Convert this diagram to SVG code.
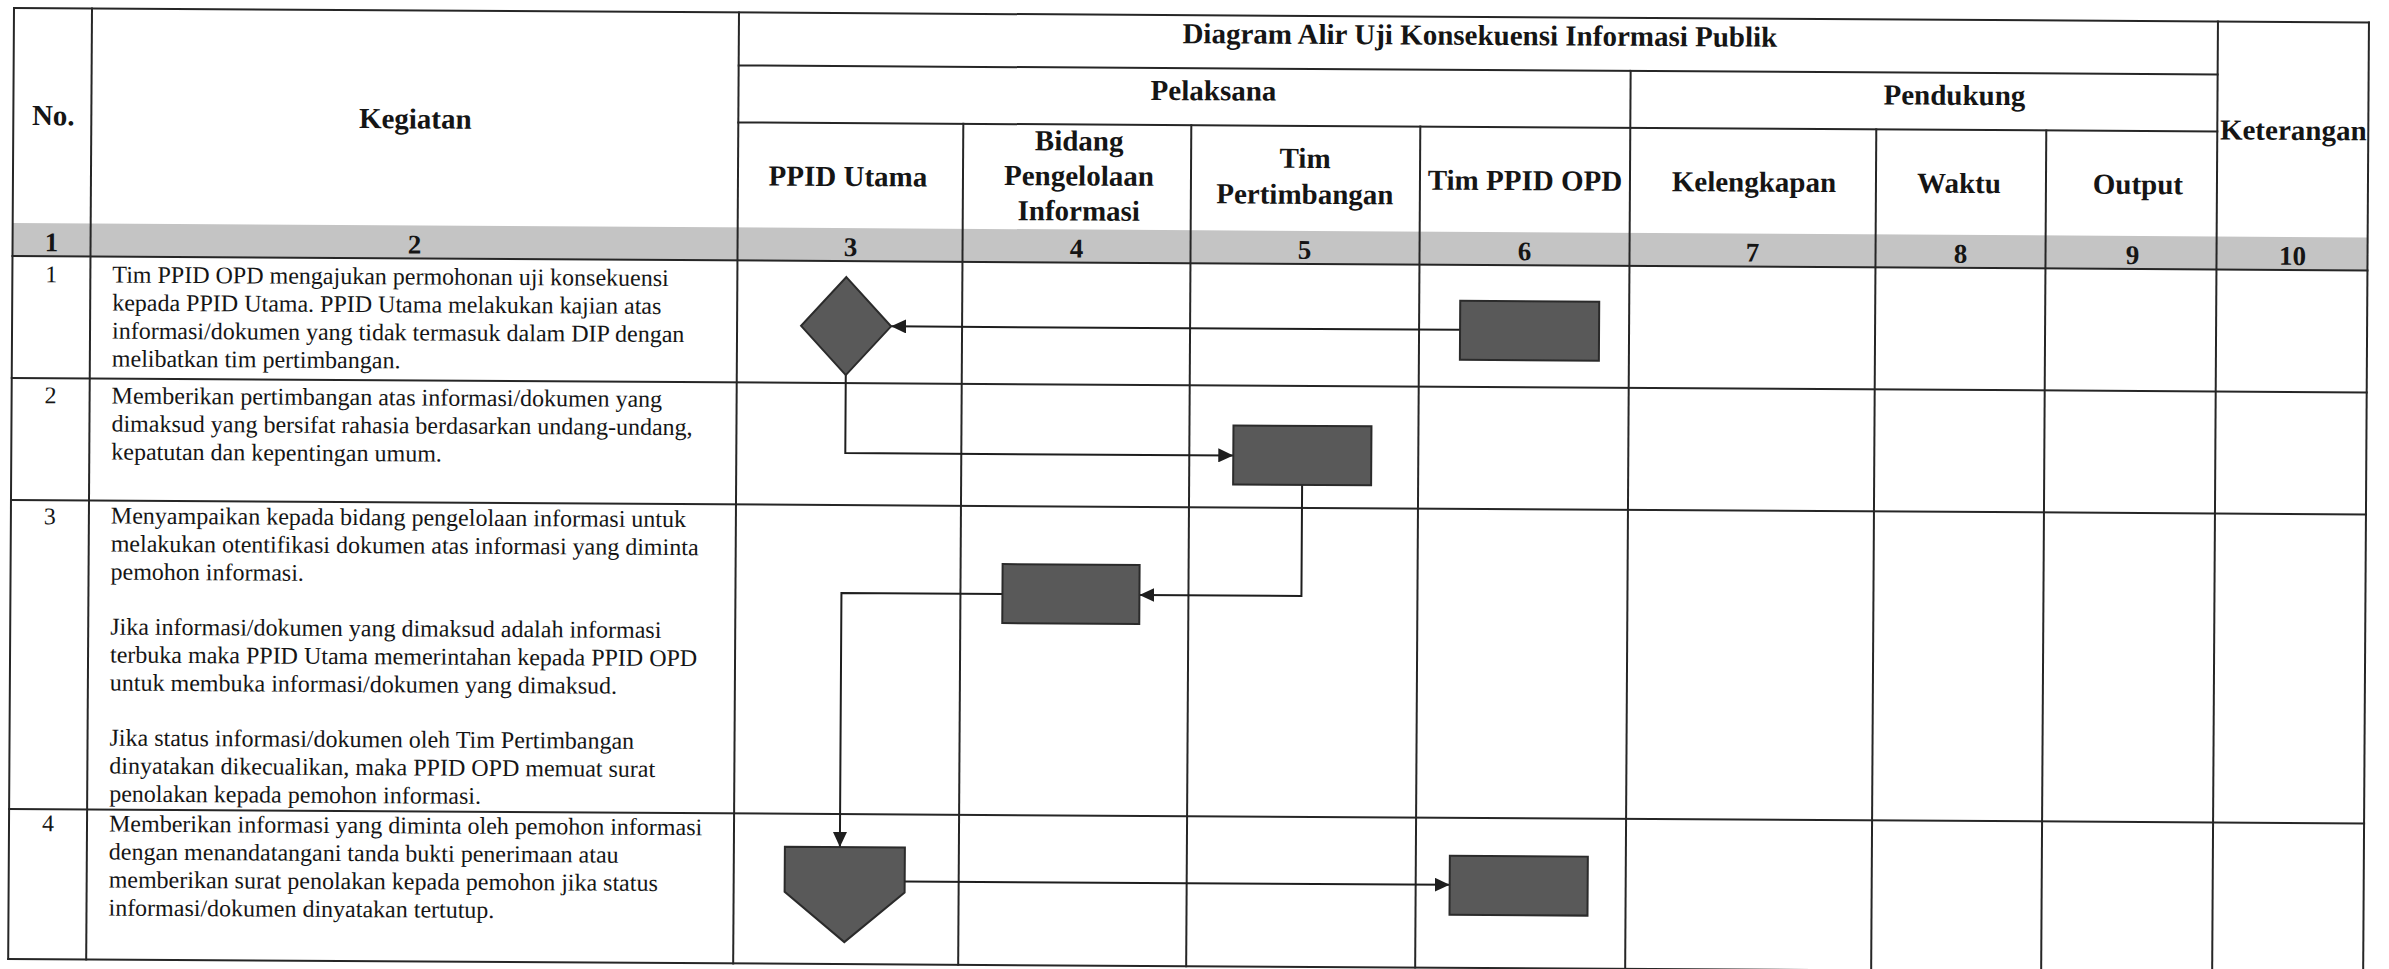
<svg xmlns="http://www.w3.org/2000/svg" width="2389" height="969" viewBox="0 0 2389 969">
<style>
.grid line{stroke:#262626;stroke-width:2;stroke-linecap:square}
.h{font-family:"Liberation Serif","Times New Roman",serif;font-weight:bold;font-size:29px;text-anchor:middle;fill:#151515}
.n{font-family:"Liberation Serif","Times New Roman",serif;font-weight:bold;font-size:27px;text-anchor:middle;fill:#151515}
.t{font-family:"Liberation Serif","Times New Roman",serif;font-size:24px;fill:#151515}
.rn{font-family:"Liberation Serif","Times New Roman",serif;font-size:24px;text-anchor:middle;fill:#151515}
.shape{fill:#595959;stroke:#2b2b2b;stroke-width:2}
.conn path{fill:none;stroke:#1e1e1e;stroke-width:2;marker-end:url(#ah)}
</style>
<defs>
<marker id="ah" markerUnits="userSpaceOnUse" markerWidth="16" markerHeight="14" refX="15" refY="7" orient="auto">
<path d="M0,0 L15,7 L0,14 z" fill="#1e1e1e"/>
</marker>
</defs>
<rect x="0" y="0" width="2389" height="969" fill="#ffffff"/>
<g transform="rotate(0.35 14 8)">
<rect x="14" y="223" width="2355" height="33" fill="#c4c4c4"/>
<g class="grid" id="table">
<line x1="14" y1="8" x2="2369" y2="8"/>
<line x1="14" y1="959" x2="2369" y2="959"/>
<line x1="14" y1="8" x2="14" y2="959"/>
<line x1="2369" y1="8" x2="2369" y2="959"/>
<line x1="92" y1="8" x2="92" y2="959"/>
<line x1="739" y1="8" x2="739" y2="959"/>
<line x1="2218" y1="8" x2="2218" y2="959"/>
<line x1="739" y1="61" x2="2218" y2="61"/>
<line x1="739" y1="118" x2="2218" y2="118"/>
<line x1="1631" y1="61" x2="1631" y2="959"/>
<line x1="964" y1="118" x2="964" y2="959"/>
<line x1="1192" y1="118" x2="1192" y2="959"/>
<line x1="1421" y1="118" x2="1421" y2="959"/>
<line x1="1877" y1="118" x2="1877" y2="959"/>
<line x1="2047" y1="118" x2="2047" y2="959"/>
<line x1="14" y1="256" x2="2369" y2="256"/>
<line x1="14" y1="378" x2="2369" y2="378"/>
<line x1="14" y1="500" x2="2369" y2="500"/>
<line x1="14" y1="809" x2="2369" y2="809"/>
</g>
<g id="headers">
<text class="h" x="1480" y="36">Diagram Alir Uji Konsekuensi Informasi Publik</text>
<text class="h" x="1214" y="93">Pelaksana</text>
<text class="h" x="1955" y="93">Pendukung</text>
<text class="h" x="54" y="125">No.</text>
<text class="h" x="416" y="126">Kegiatan</text>
<text class="h" x="849" y="181">PPID Utama</text>
<text class="h" x="1080" y="144">Bidang</text>
<text class="h" x="1080" y="179">Pengelolaan</text>
<text class="h" x="1080" y="214">Informasi</text>
<text class="h" x="1306" y="160">Tim</text>
<text class="h" x="1306" y="196">Pertimbangan</text>
<text class="h" x="1526" y="181">Tim PPID OPD</text>
<text class="h" x="1755" y="181">Kelengkapan</text>
<text class="h" x="1960" y="181">Waktu</text>
<text class="h" x="2139" y="181">Output</text>
<text class="h" x="2294" y="126">Keterangan</text>
</g>
<g id="column-numbers">
<text class="n" x="53" y="251">1</text>
<text class="n" x="416" y="251">2</text>
<text class="n" x="852" y="251">3</text>
<text class="n" x="1078" y="251">4</text>
<text class="n" x="1306" y="251">5</text>
<text class="n" x="1526" y="251">6</text>
<text class="n" x="1754" y="251">7</text>
<text class="n" x="1962" y="251">8</text>
<text class="n" x="2134" y="251">9</text>
<text class="n" x="2294" y="251">10</text>
</g>
<g id="row-1">
<text class="rn" x="53" y="282">1</text>
<text class="t" x="114" y="282">Tim PPID OPD mengajukan permohonan uji konsekuensi</text>
<text class="t" x="114" y="310">kepada PPID Utama. PPID Utama melakukan kajian atas</text>
<text class="t" x="114" y="338">informasi/dokumen yang tidak termasuk dalam DIP dengan</text>
<text class="t" x="114" y="366">melibatkan tim pertimbangan.</text>
</g>
<g id="row-2">
<text class="rn" x="53" y="403">2</text>
<text class="t" x="114" y="403">Memberikan pertimbangan atas informasi/dokumen yang</text>
<text class="t" x="114" y="431">dimaksud yang bersifat rahasia berdasarkan undang-undang,</text>
<text class="t" x="114" y="459">kepatutan dan kepentingan umum.</text>
</g>
<g id="row-3">
<text class="rn" x="53" y="524">3</text>
<text class="t" x="114" y="523">Menyampaikan kepada bidang pengelolaan informasi untuk</text>
<text class="t" x="114" y="551">melakukan otentifikasi dokumen atas informasi yang diminta</text>
<text class="t" x="114" y="579">pemohon informasi.</text>
<text class="t" x="114" y="634">Jika informasi/dokumen yang dimaksud adalah informasi</text>
<text class="t" x="114" y="662">terbuka maka PPID Utama memerintahan kepada PPID OPD</text>
<text class="t" x="114" y="690">untuk membuka informasi/dokumen yang dimaksud.</text>
<text class="t" x="114" y="745">Jika status informasi/dokumen oleh Tim Pertimbangan</text>
<text class="t" x="114" y="773">dinyatakan dikecualikan, maka PPID OPD memuat surat</text>
<text class="t" x="114" y="801">penolakan kepada pemohon informasi.</text>
</g>
<g id="row-4">
<text class="rn" x="53" y="831">4</text>
<text class="t" x="114" y="831">Memberikan informasi yang diminta oleh pemohon informasi</text>
<text class="t" x="114" y="859">dengan menandatangani tanda bukti penerimaan atau</text>
<text class="t" x="114" y="887">memberikan surat penolakan kepada pemohon jika status</text>
<text class="t" x="114" y="915">informasi/dokumen dinyatakan tertutup.</text>
</g>
<g class="conn" id="connectors">
<path d="M1462,321 H893"/>
<path d="M848,370 V448 H1236"/>
<path d="M1305,477 V588 H1143"/>
<path d="M1006,588 H845 V842"/>
<path d="M910,876 H1455"/>
</g>
<g id="node-decision">
<polygon class="shape" points="848,272 893,321 848,370 803,321"/>
</g>
<g id="node-opd-request">
<rect class="shape" x="1462" y="292" width="139" height="59"/>
</g>
<g id="node-pertimbangan">
<rect class="shape" x="1236" y="418" width="138" height="59"/>
</g>
<g id="node-bidang">
<rect class="shape" x="1006" y="558" width="137" height="59"/>
</g>
<g id="node-offpage">
<polygon class="shape" points="790,842 910,842 910,887 850,937 790,887"/>
</g>
<g id="node-opd-result">
<rect class="shape" x="1455" y="847" width="138" height="59"/>
</g>
</g>
</svg>
